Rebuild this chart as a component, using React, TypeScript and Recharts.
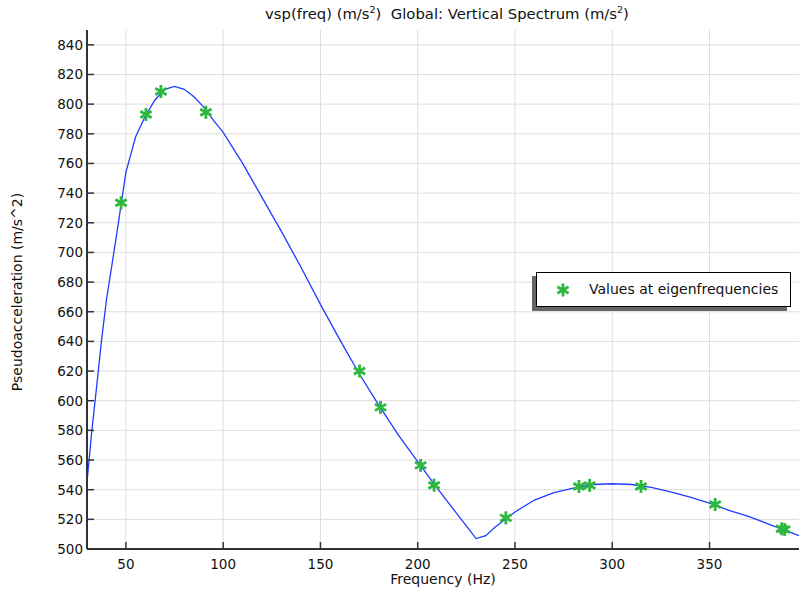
import React from "react";
import { ComposedChart, Line, Scatter, XAxis, YAxis, CartesianGrid } from "recharts";

const curveFreq = [30, 32.5, 35, 37.5, 40, 45, 50, 55, 60, 65, 70, 75, 80, 85, 90, 95, 100, 110, 120, 130, 140, 150, 160, 170, 180, 190, 200, 210, 220, 230, 235, 240, 250, 260, 270, 280, 290, 300, 310, 320, 330, 340, 350, 360, 370, 380, 390, 396];
const curveVal = [545, 580, 610, 641, 668, 710, 754, 778, 792, 803, 810, 812, 810, 805, 798, 789, 781, 760, 737, 714, 690, 665, 641, 618, 597, 577, 559, 541, 524, 507, 509, 515, 525, 533, 538, 541, 543.5, 544, 543.5, 541.5, 538.5, 535, 531, 526, 522, 517, 512, 509];

const eigFreq = [47.5, 60.3, 68, 91.1, 170.1, 180.9, 201.5, 208.4, 245.3, 282.9, 288.4, 314.8, 352.9, 387.1, 388.6];
const eigVal = [733.5, 793, 808.5, 794.5, 620, 595.5, 556.4, 543, 521, 542.2, 542.9, 542.2, 530, 513.6, 513.1];

const xTicks = [50, 100, 150, 200, 250, 300, 350];
const yTicks = [500, 520, 540, 560, 580, 600, 620, 640, 660, 680, 700, 720, 740, 760, 780, 800, 820, 840];

const curveData = curveFreq.map((f, i) => ({ f, v: curveVal[i] }));
const eigData = eigFreq.map((f, i) => ({ f, v: eigVal[i] }));

const FONT = "'DejaVu Sans', sans-serif";
const GREEN = "#2cb83e";
const BLUE = "#1f3dff";

const Star = (props: any) => {
  const { cx, cy } = props;
  if (cx == null || cy == null) return null;
  const r = 6.5;
  const dx = r * Math.cos(Math.PI / 6);
  const dy = r * Math.sin(Math.PI / 6);
  return (
    <g stroke={GREEN} strokeWidth={2.8} strokeLinecap="butt">
      <line x1={cx} y1={cy - r} x2={cx} y2={cy + r} />
      <line x1={cx - dx} y1={cy - dy} x2={cx + dx} y2={cy + dy} />
      <line x1={cx - dx} y1={cy + dy} x2={cx + dx} y2={cy - dy} />
    </g>
  );
};

const YTick = (props: any) => {
  const { x, y, payload } = props;
  return (
    <g>
      <line x1={x} y1={y} x2={x + 7} y2={y} stroke="#333" strokeWidth={1.5} />
      <text x={x - 4} y={y} textAnchor="end" dominantBaseline="central" fontSize={13.5} fontFamily={FONT} fill="#111">
        {payload.value}
      </text>
    </g>
  );
};

const XTick = (props: any) => {
  const { x, y, payload } = props;
  return (
    <g>
      <line x1={x} y1={y} x2={x} y2={y - 7} stroke="#333" strokeWidth={1.5} />
      <text x={x} y={y + 20} textAnchor="middle" fontSize={13.5} fontFamily={FONT} fill="#111">
        {payload.value}
      </text>
    </g>
  );
};

export default function App() {
  return (
    <div style={{ position: "absolute", left: 0, top: 0, width: 799, height: 593, background: "#fff", fontFamily: FONT }}>
      <div style={{ position: "absolute", left: 0, top: 4, width: 894, textAlign: "center", fontSize: 14.8, color: "#111", whiteSpace: "pre" }}>
        vsp(freq) (m/s<sup style={{ fontSize: 9.5 }}>2</sup>)  Global: Vertical Spectrum (m/s<sup style={{ fontSize: 9.5 }}>2</sup>)
      </div>
      <ComposedChart width={799} height={593} margin={{ top: 30, right: 0, bottom: 0, left: 0 }}>
        <CartesianGrid stroke="#dedede" strokeWidth={1} horizontalValues={yTicks} verticalValues={xTicks} />
        <XAxis
          type="number"
          dataKey="f"
          domain={[30, 396]}
          ticks={xTicks}
          allowDataOverflow
          height={44}
          tickSize={0}
          tickMargin={0}
          tick={<XTick />}
          axisLine={{ stroke: "#333", strokeWidth: 2 }}
          tickLine={false}
        />
        <YAxis
          type="number"
          dataKey="v"
          domain={[500, 850]}
          ticks={yTicks}
          allowDataOverflow
          width={87}
          tickSize={0}
          tickMargin={0}
          tick={<YTick />}
          axisLine={{ stroke: "#333", strokeWidth: 2 }}
          tickLine={false}
        />
        <Line data={curveData} dataKey="v" type="linear" stroke={BLUE} strokeWidth={1.3} dot={false} isAnimationActive={false} />
        <Scatter data={eigData} dataKey="v" shape={<Star />} isAnimationActive={false} />
      </ComposedChart>
      <div style={{ position: "absolute", left: 0, top: 571, width: 886, textAlign: "center", fontSize: 14, color: "#111" }}>
        Frequency (Hz)
      </div>
      <div
        style={{
          position: "absolute",
          left: 17,
          top: 292,
          transform: "translate(-50%, -50%) rotate(-90deg)",
          fontSize: 14,
          color: "#111",
          whiteSpace: "nowrap",
        }}
      >
        Pseudoacceleration (m/s^2)
      </div>
      <div style={{ position: "absolute", left: 532, top: 276, width: 255, height: 35, background: "#666" }} />
      <div
        style={{
          position: "absolute",
          left: 536,
          top: 272,
          width: 253,
          height: 33,
          background: "#fff",
          border: "1px solid #000",
        }}
      >
        <svg width={30} height={33} style={{ position: "absolute", left: 12, top: 0 }}>
          <Star cx={14} cy={17} />
        </svg>
        <div style={{ position: "absolute", left: 52, top: 8, fontSize: 14, color: "#111", whiteSpace: "nowrap" }}>
          Values at eigenfrequencies
        </div>
      </div>
    </div>
  );
}
